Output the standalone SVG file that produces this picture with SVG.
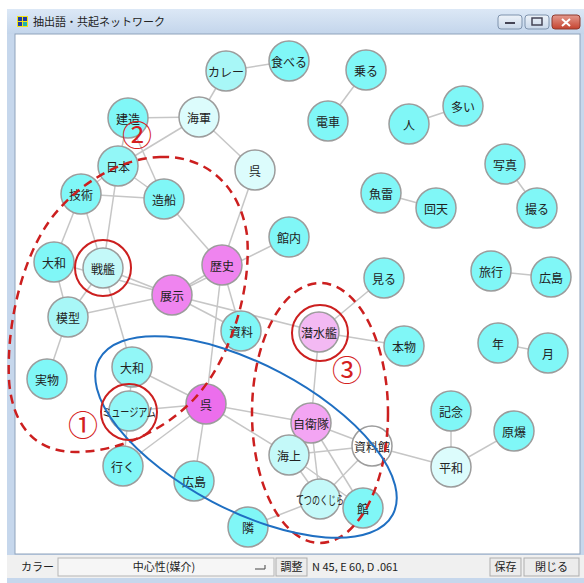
<svg xmlns="http://www.w3.org/2000/svg" width="584" height="583" viewBox="0 0 584 583">
<defs>
<linearGradient id="tb" x1="0" y1="0" x2="0" y2="1"><stop offset="0" stop-color="#dce8f6"/><stop offset="1" stop-color="#c3d5eb"/></linearGradient>
<linearGradient id="btn" x1="0" y1="0" x2="0" y2="1"><stop offset="0" stop-color="#eef3f9"/><stop offset="1" stop-color="#c9d8ea"/></linearGradient>
<linearGradient id="cls" x1="0" y1="0" x2="0" y2="1"><stop offset="0" stop-color="#e49a8e"/><stop offset="1" stop-color="#c5432f"/></linearGradient>
</defs>
<style>
.e{stroke:#c6c6c6;stroke-width:1.5;fill:none}
.n circle{stroke:#9c9c9c;stroke-width:1.5}
.n text{font-family:"Noto Sans CJK JP","Noto Sans",sans-serif;font-size:12px;fill:#222;text-anchor:middle;dominant-baseline:central}
.c0{fill:#80f7f7}.c1{fill:#92f7f7}.c2{fill:#a8f7f7}.c3{fill:#c4f9f9}.c4{fill:#dcfcfc}.cw{fill:#ffffff}
.p1{fill:#f3b9f3}.p2{fill:#f3a5f3}.p3{fill:#ef84ef}.p4{fill:#ec6eec}
.ui{font-family:"Noto Sans CJK JP","Noto Sans",sans-serif;font-size:11px;fill:#222}
.rc{fill:none;stroke:#cc1f1f;stroke-width:2}
.rd{fill:none;stroke:#cc1f1f;stroke-width:2.5;stroke-dasharray:9 6}
.num{font-family:"Noto Sans CJK JP",sans-serif;font-size:30px;fill:#d42020;text-anchor:middle;dominant-baseline:central}
</style>
<rect width="584" height="583" fill="#ffffff"/>
<!-- window frame -->
<g id="window">
<rect x="7" y="9" width="577" height="574" fill="#c6d7ec"/>
<rect x="7" y="9" width="577" height="25" fill="url(#tb)"/>
<rect x="15" y="34" width="565" height="520" fill="#ffffff" stroke="#8fa3bb" stroke-width="1"/>
<rect x="17" y="16" width="11" height="11" fill="#f2e51a"/>
<rect x="18" y="17" width="4" height="4" fill="#1d3aa8"/>
<rect x="23" y="17" width="4" height="4" fill="#1d3aa8"/>
<rect x="18" y="22" width="4" height="4" fill="#1d3aa8"/>
<rect x="23" y="22" width="4" height="4" fill="#22b5a8"/>
<text class="ui" x="33" y="26" font-size="11.5">抽出語・共起ネットワーク</text>
<rect x="498" y="15" width="24" height="14" rx="3" fill="url(#btn)" stroke="#7f93ad"/>
<rect x="505" y="22" width="10" height="2" fill="#445"/>
<rect x="525" y="15" width="24" height="14" rx="3" fill="url(#btn)" stroke="#7f93ad"/>
<rect x="532" y="18" width="10" height="7" fill="none" stroke="#445" stroke-width="1.5"/>
<rect x="552" y="15" width="28" height="14" rx="3" fill="url(#cls)" stroke="#8e3a2e"/>
<path d="M562,19 L570,26 M570,19 L562,26" stroke="#fff" stroke-width="2"/>
</g>
<!-- toolbar -->
<g id="toolbar">
<rect x="7" y="555" width="577" height="23" fill="#f0f0f0"/>
<text class="ui" x="21" y="571">カラー：</text>
<rect x="58" y="558" width="216" height="18" fill="#f6f6f6" stroke="#b5b5b5"/>
<text class="ui" x="164" y="571" text-anchor="middle">中心性(媒介)</text>
<path d="M255,569 H265 V565" fill="none" stroke="#444" stroke-width="1"/>
<rect x="276" y="558" width="31" height="18" fill="#ececec" stroke="#adadad"/>
<text class="ui" x="291.5" y="571" text-anchor="middle">調整</text>
<text class="ui" x="312" y="571">N 45, E 60, D .061</text>
<rect x="490" y="558" width="31" height="18" fill="#ececec" stroke="#adadad"/>
<text class="ui" x="505.5" y="571" text-anchor="middle">保存</text>
<rect x="524" y="558" width="55" height="18" fill="#ececec" stroke="#adadad"/>
<text class="ui" x="551.5" y="571" text-anchor="middle">閉じる</text>
</g>
<!-- connectors -->
<g id="edges">
<line class="e" x1="226" y1="71" x2="289" y2="61"/>
<line class="e" x1="226" y1="71" x2="199" y2="117"/>
<line class="e" x1="366" y1="70" x2="328" y2="121"/>
<line class="e" x1="409" y1="124" x2="463" y2="106"/>
<line class="e" x1="505" y1="164" x2="537" y2="208"/>
<line class="e" x1="381" y1="193" x2="436" y2="208"/>
<line class="e" x1="128" y1="118" x2="199" y2="117"/>
<line class="e" x1="128" y1="118" x2="118" y2="166"/>
<line class="e" x1="128" y1="118" x2="164" y2="199"/>
<line class="e" x1="199" y1="117" x2="118" y2="166"/>
<line class="e" x1="199" y1="117" x2="255" y2="170"/>
<line class="e" x1="118" y1="166" x2="81" y2="194"/>
<line class="e" x1="118" y1="166" x2="164" y2="199"/>
<line class="e" x1="118" y1="166" x2="103" y2="268"/>
<line class="e" x1="81" y1="194" x2="164" y2="199"/>
<line class="e" x1="81" y1="194" x2="54" y2="262"/>
<line class="e" x1="81" y1="194" x2="103" y2="268"/>
<line class="e" x1="164" y1="199" x2="222" y2="265"/>
<line class="e" x1="255" y1="170" x2="222" y2="265"/>
<line class="e" x1="289" y1="237" x2="172" y2="295"/>
<line class="e" x1="222" y1="265" x2="172" y2="295"/>
<line class="e" x1="222" y1="265" x2="241" y2="331"/>
<line class="e" x1="222" y1="265" x2="206" y2="404"/>
<line class="e" x1="103" y1="268" x2="172" y2="295"/>
<line class="e" x1="54" y1="262" x2="172" y2="295"/>
<line class="e" x1="172" y1="295" x2="68" y2="317"/>
<line class="e" x1="172" y1="295" x2="241" y2="331"/>
<line class="e" x1="172" y1="295" x2="319" y2="332"/>
<line class="e" x1="54" y1="262" x2="68" y2="317"/>
<line class="e" x1="103" y1="268" x2="68" y2="317"/>
<line class="e" x1="68" y1="317" x2="47" y2="379"/>
<line class="e" x1="103" y1="268" x2="132" y2="367"/>
<line class="e" x1="132" y1="367" x2="129" y2="411"/>
<line class="e" x1="132" y1="367" x2="206" y2="404"/>
<line class="e" x1="129" y1="411" x2="206" y2="404"/>
<line class="e" x1="129" y1="411" x2="123" y2="466"/>
<line class="e" x1="206" y1="404" x2="123" y2="466"/>
<line class="e" x1="206" y1="404" x2="194" y2="481"/>
<line class="e" x1="206" y1="404" x2="311" y2="423"/>
<line class="e" x1="206" y1="404" x2="289" y2="455"/>
<line class="e" x1="319" y1="332" x2="311" y2="423"/>
<line class="e" x1="311" y1="423" x2="372" y2="446"/>
<line class="e" x1="311" y1="423" x2="320" y2="499"/>
<line class="e" x1="311" y1="423" x2="363" y2="508"/>
<line class="e" x1="289" y1="455" x2="372" y2="446"/>
<line class="e" x1="289" y1="455" x2="320" y2="499"/>
<line class="e" x1="289" y1="455" x2="363" y2="508"/>
<line class="e" x1="372" y1="446" x2="320" y2="499"/>
<line class="e" x1="320" y1="499" x2="248" y2="527"/>
<line class="e" x1="372" y1="446" x2="451" y2="467"/>
<line class="e" x1="451" y1="467" x2="451" y2="411"/>
<line class="e" x1="451" y1="467" x2="514" y2="431"/>
<line class="e" x1="319" y1="332" x2="384" y2="278"/>
<line class="e" x1="319" y1="332" x2="404" y2="346"/>
<line class="e" x1="491" y1="271" x2="551" y2="277"/>
<line class="e" x1="498" y1="343" x2="548" y2="353"/>
</g>
<!-- nodes -->
<g id="nodes">
<g id="n-curry" class="n"><circle class="c2" cx="226" cy="71" r="20"/><text x="226" y="71">カレー</text></g>
<g id="n-taberu" class="n"><circle class="c0" cx="289" cy="61" r="20"/><text x="289" y="61">食べる</text></g>
<g id="n-noru" class="n"><circle class="c0" cx="366" cy="70" r="20"/><text x="366" y="70">乗る</text></g>
<g id="n-densha" class="n"><circle class="c0" cx="328" cy="121" r="20"/><text x="328" y="121">電車</text></g>
<g id="n-hito" class="n"><circle class="c0" cx="409" cy="124" r="20"/><text x="409" y="124">人</text></g>
<g id="n-ooi" class="n"><circle class="c0" cx="463" cy="106" r="20"/><text x="463" y="106">多い</text></g>
<g id="n-shashin" class="n"><circle class="c0" cx="505" cy="164" r="20"/><text x="505" y="164">写真</text></g>
<g id="n-toru" class="n"><circle class="c0" cx="537" cy="208" r="20"/><text x="537" y="208">撮る</text></g>
<g id="n-gyorai" class="n"><circle class="c0" cx="381" cy="193" r="20"/><text x="381" y="193">魚雷</text></g>
<g id="n-kaiten" class="n"><circle class="c0" cx="436" cy="208" r="20"/><text x="436" y="208">回天</text></g>
<g id="n-kenzo" class="n"><circle class="c0" cx="128" cy="118" r="20"/><text x="128" y="118">建造</text></g>
<g id="n-kaigun" class="n"><circle class="c4" cx="199" cy="117" r="20"/><text x="199" y="117">海軍</text></g>
<g id="n-nihon" class="n"><circle class="c1" cx="118" cy="166" r="20"/><text x="118" y="166">日本</text></g>
<g id="n-gijutsu" class="n"><circle class="c0" cx="81" cy="194" r="20"/><text x="81" y="194">技術</text></g>
<g id="n-zosen" class="n"><circle class="c0" cx="164" cy="199" r="20"/><text x="164" y="199">造船</text></g>
<g id="n-kure1" class="n"><circle class="c4" cx="255" cy="170" r="20"/><text x="255" y="170">呉</text></g>
<g id="n-kannai" class="n"><circle class="c0" cx="289" cy="237" r="20"/><text x="289" y="237">館内</text></g>
<g id="n-rekishi" class="n"><circle class="p3" cx="222" cy="265" r="20"/><text x="222" y="265">歴史</text></g>
<g id="n-tenji" class="n"><circle class="p3" cx="172" cy="295" r="20"/><text x="172" y="295">展示</text></g>
<g id="n-shiryo" class="n"><circle class="c0" cx="241" cy="331" r="20"/><text x="241" y="331">資料</text></g>
<g id="n-sensuikan" class="n"><circle class="p1" cx="319" cy="332" r="20"/><text x="319" y="332">潜水艦</text></g>
<g id="n-miru" class="n"><circle class="c0" cx="384" cy="278" r="20"/><text x="384" y="278">見る</text></g>
<g id="n-honmono" class="n"><circle class="c0" cx="404" cy="346" r="20"/><text x="404" y="346">本物</text></g>
<g id="n-ryoko" class="n"><circle class="c0" cx="491" cy="271" r="20"/><text x="491" y="271">旅行</text></g>
<g id="n-hiroshima2" class="n"><circle class="c0" cx="551" cy="277" r="20"/><text x="551" y="277">広島</text></g>
<g id="n-nen" class="n"><circle class="c0" cx="498" cy="343" r="20"/><text x="498" y="343">年</text></g>
<g id="n-tsuki" class="n"><circle class="c0" cx="548" cy="353" r="20"/><text x="548" y="353">月</text></g>
<g id="n-yamato1" class="n"><circle class="c0" cx="54" cy="262" r="20"/><text x="54" y="262">大和</text></g>
<g id="n-senkan" class="n"><circle class="c3" cx="103" cy="268" r="20"/><text x="103" y="268">戦艦</text></g>
<g id="n-mokei" class="n"><circle class="c2" cx="68" cy="317" r="20"/><text x="68" y="317">模型</text></g>
<g id="n-jitsubutsu" class="n"><circle class="c0" cx="47" cy="379" r="20"/><text x="47" y="379">実物</text></g>
<g id="n-yamato2" class="n"><circle class="c1" cx="132" cy="367" r="20"/><text x="132" y="367">大和</text></g>
<g id="n-museum" class="n"><circle class="c1" cx="129" cy="411" r="20"/><text x="129" y="411" textLength="54" lengthAdjust="spacingAndGlyphs">ミュージアム</text></g>
<g id="n-kure2" class="n"><circle class="p4" cx="206" cy="404" r="20"/><text x="206" y="404">呉</text></g>
<g id="n-jieitai" class="n"><circle class="p2" cx="311" cy="423" r="20"/><text x="311" y="423">自衛隊</text></g>
<g id="n-shiryokan" class="n"><circle class="cw" cx="372" cy="446" r="20"/><text x="372" y="446">資料館</text></g>
<g id="n-kaijo" class="n"><circle class="c3" cx="289" cy="455" r="20"/><text x="289" y="455">海上</text></g>
<g id="n-tetsunokujira" class="n"><circle class="c3" cx="320" cy="499" r="20"/><text x="320" y="499" textLength="48" lengthAdjust="spacingAndGlyphs">てつのくじら</text></g>
<g id="n-kan" class="n"><circle class="c0" cx="363" cy="508" r="20"/><text x="363" y="508">館</text></g>
<g id="n-iku" class="n"><circle class="c0" cx="123" cy="466" r="20"/><text x="123" y="466">行く</text></g>
<g id="n-hiroshima1" class="n"><circle class="c0" cx="194" cy="481" r="20"/><text x="194" y="481">広島</text></g>
<g id="n-tonari" class="n"><circle class="c0" cx="248" cy="527" r="20"/><text x="248" y="527">隣</text></g>
<g id="n-kinen" class="n"><circle class="c0" cx="451" cy="411" r="20"/><text x="451" y="411">記念</text></g>
<g id="n-genbaku" class="n"><circle class="c0" cx="514" cy="431" r="20"/><text x="514" y="431">原爆</text></g>
<g id="n-heiwa" class="n"><circle class="c4" cx="451" cy="467" r="20"/><text x="451" y="467">平和</text></g>
</g>
<!-- annotations -->
<g id="annotations">
<path class="rd" d="M160,157 C205,155 240,185 247,235 C252,290 230,360 195,398 C165,430 120,452 75,452 C35,452 12,425 9,380 C6,320 25,245 60,208 C80,185 120,158 160,157 Z"/>
<ellipse class="rd" cx="320" cy="413" rx="68" ry="130"/>
<ellipse cx="246" cy="437" rx="166" ry="73" transform="rotate(27.8 246 437)" fill="none" stroke="#1f6fc2" stroke-width="2"/>
<circle class="rc" cx="103" cy="268" r="28"/>
<circle class="rc" cx="129" cy="412" r="28"/>
<circle class="rc" cx="320" cy="333" r="28"/>
<text class="num" x="83" y="423">①</text>
<text class="num" x="137" y="133">②</text>
<text class="num" x="347" y="368">③</text>
</g>
</svg>
